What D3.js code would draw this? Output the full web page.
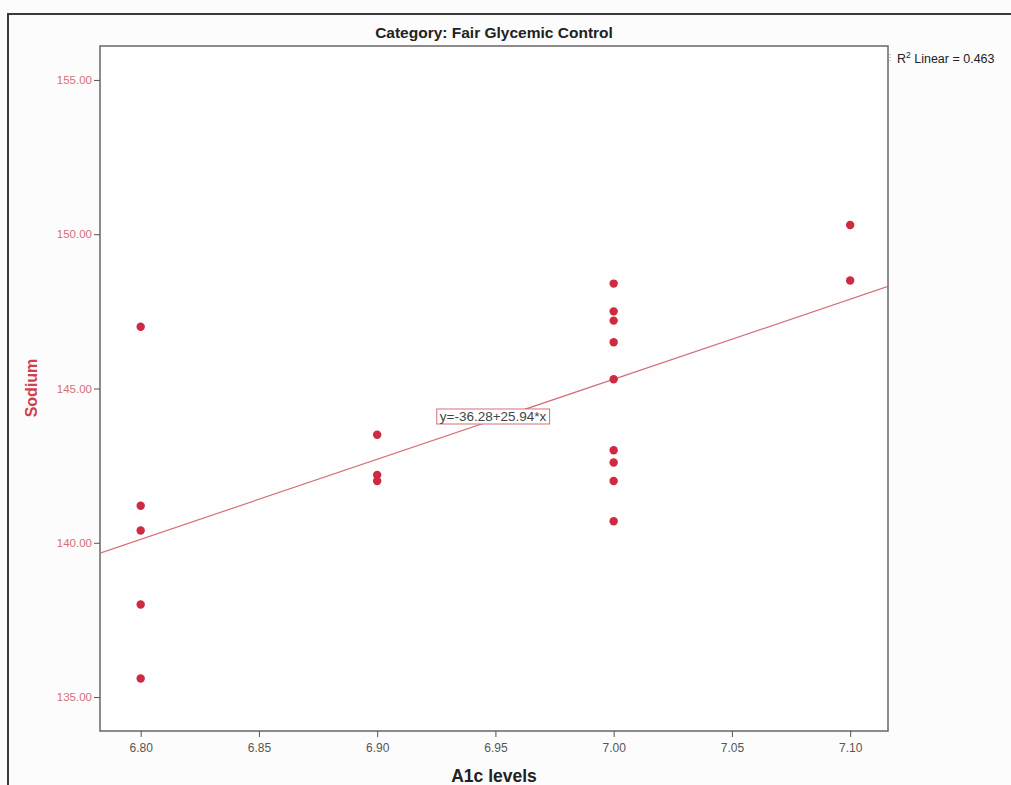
<!DOCTYPE html>
<html>
<head>
<meta charset="utf-8">
<script src="https://cdn.jsdelivr.net/npm/d3@7"></script>
<style>
  body { margin: 0; background: #fff; }
  svg { display: block; font-family: "Liberation Sans", Arial, sans-serif; }
</style>
</head>
<body>
<svg id="chart"></svg>
<script>
// A1c level vs sodium, one point per patient
const a1c = [6.80, 6.80, 6.80, 6.80, 6.80,
             6.90, 6.90, 6.90,
             7.00, 7.00, 7.00, 7.00, 7.00, 7.00, 7.00, 7.00, 7.00,
             7.10, 7.10];
const sodium = [147.0, 141.2, 140.4, 138.0, 135.6,
                143.5, 142.2, 142.0,
                148.4, 147.5, 147.2, 146.5, 145.3, 143.0, 142.6, 142.0, 140.7,
                150.3, 148.5];

const xTicks = [6.80, 6.85, 6.90, 6.95, 7.00, 7.05, 7.10];
const yTicks = [135, 140, 145, 150, 155];

const intercept = -36.28;
const slope = 25.94;
const rSquared = 0.463;

const width = 1011, height = 785;
const plot = { left: 100, top: 46, right: 888, bottom: 731 };

const svg = d3.select("#chart")
  .attr("width", width)
  .attr("height", height);

svg.append("rect")
  .attr("width", width).attr("height", height)
  .attr("fill", "#fdfcfc");

// outer frame (runs off the right and bottom edges)
svg.append("rect")
  .attr("x", 8).attr("y", 14)
  .attr("width", 1030).attr("height", 800)
  .attr("fill", "none")
  .attr("stroke", "#3a3a3a")
  .attr("stroke-width", 2);

const x = d3.scaleLinear()
  .domain([6.7828, 7.116])
  .range([plot.left, plot.right]);

const y = d3.scaleLinear()
  .domain([133.9, 156.1])
  .range([plot.bottom, plot.top]);

// plot box
svg.append("rect")
  .attr("x", plot.left).attr("y", plot.top)
  .attr("width", plot.right - plot.left)
  .attr("height", plot.bottom - plot.top)
  .attr("fill", "#fffefe")
  .attr("stroke", "#666")
  .attr("stroke-width", 1.5);

// axes
const xAxis = svg.append("g")
  .attr("transform", `translate(0,${plot.bottom})`)
  .call(d3.axisBottom(x).tickValues(xTicks).tickFormat(d3.format(".2f")).tickSize(6).tickPadding(6));
xAxis.select(".domain").remove();
xAxis.selectAll("line").attr("stroke", "#555");
xAxis.selectAll("text").attr("fill", "#555").attr("font-size", 12);

const yAxis = svg.append("g")
  .attr("transform", `translate(${plot.left},0)`)
  .call(d3.axisLeft(y).tickValues(yTicks).tickFormat(d3.format(".2f")).tickSize(6).tickPadding(2));
yAxis.select(".domain").remove();
yAxis.selectAll("line").attr("stroke", "#555");
yAxis.selectAll("text").attr("fill", "#d4707a").attr("font-size", 11.5);

// fit line, clipped to the plot box
svg.append("clipPath").attr("id", "clip")
  .append("rect")
  .attr("x", plot.left).attr("y", plot.top)
  .attr("width", plot.right - plot.left)
  .attr("height", plot.bottom - plot.top);

const [x0, x1] = x.domain();
svg.append("line")
  .attr("clip-path", "url(#clip)")
  .attr("x1", x(x0)).attr("y1", y(intercept + slope * x0))
  .attr("x2", x(x1)).attr("y2", y(intercept + slope * x1))
  .attr("stroke", "#d4707a")
  .attr("stroke-width", 1.2);

// points
svg.append("g")
  .selectAll("circle")
  .data(a1c.map((d, i) => [d, sodium[i]]))
  .join("circle")
  .attr("cx", d => x(d[0]))
  .attr("cy", d => y(d[1]))
  .attr("r", 4.2)
  .attr("fill", "#cf2a3f");

// equation label
const eq = svg.append("g")
  .attr("transform", `translate(${x(6.949)},${y(144.1)})`);
const eqText = eq.append("text")
  .attr("text-anchor", "middle")
  .attr("dy", "0.35em")
  .attr("font-size", 13.5)
  .attr("fill", "#444")
  .text(`y=${intercept.toFixed(2)}+${slope.toFixed(2)}*x`);
const bb = eqText.node().getBBox();
eq.insert("rect", "text")
  .attr("x", bb.x - 3).attr("y", bb.y)
  .attr("width", bb.width + 6).attr("height", bb.height)
  .attr("fill", "#fff")
  .attr("stroke", "#d4707a")
  .attr("stroke-width", 1);

// title
svg.append("text")
  .attr("x", (plot.left + plot.right) / 2)
  .attr("y", 38)
  .attr("text-anchor", "middle")
  .attr("font-size", 15.5)
  .attr("font-weight", "bold")
  .attr("fill", "#222")
  .text("Category: Fair Glycemic Control");

// R squared legend
svg.append("line")
  .attr("x1", 890).attr("x2", 890)
  .attr("y1", 54).attr("y2", 63)
  .attr("stroke", "#999")
  .attr("stroke-dasharray", "1,2");
const r2 = svg.append("text")
  .attr("x", 897).attr("y", 63)
  .attr("font-size", 12.5)
  .attr("fill", "#222");
r2.append("tspan").text("R");
r2.append("tspan").attr("dy", -5).attr("font-size", 8.5).text("2");
r2.append("tspan").attr("dy", 5).text(` Linear = ${rSquared.toFixed(3)}`);

// axis titles
svg.append("text")
  .attr("transform", `translate(37,388) rotate(-90)`)
  .attr("text-anchor", "middle")
  .attr("font-size", 16)
  .attr("font-weight", "bold")
  .attr("fill", "#d0404e")
  .text("Sodium");

svg.append("text")
  .attr("x", (plot.left + plot.right) / 2)
  .attr("y", 782)
  .attr("text-anchor", "middle")
  .attr("font-size", 17.5)
  .attr("font-weight", "bold")
  .attr("fill", "#222")
  .text("A1c levels");
</script>
</body>
</html>
